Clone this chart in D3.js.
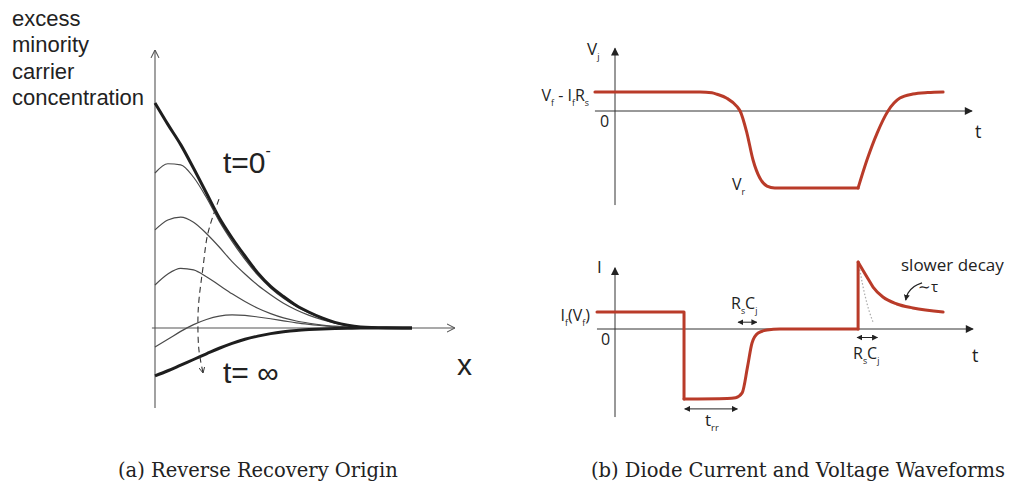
<!DOCTYPE html>
<html>
<head>
<meta charset="utf-8">
<script src="https://cdn.jsdelivr.net/npm/d3@7"></script>
<style>
  html, body { margin: 0; padding: 0; background: #fff; }
  svg { display: block; }
</style>
</head>
<body>
<svg id="fig" width="1011" height="492"></svg>
<script>
// ---------- (a) excess minority carrier profiles ----------
const positions = [0, 0.05, 0.1, 0.15, 0.2, 0.25, 0.3, 0.35, 0.4, 0.45, 0.5, 0.55, 0.6, 0.65, 0.7, 0.75, 0.8, 0.9, 1.0];
const profileT0   = [1.0, 0.905, 0.815, 0.71, 0.60, 0.49, 0.40, 0.32, 0.245, 0.185, 0.14, 0.10, 0.07, 0.045, 0.025, 0.012, 0.005, 0.001, 0];
const profileT1   = [0.689, 0.73, 0.725, 0.67, 0.58, 0.475, 0.385, 0.305, 0.235, 0.178, 0.132, 0.096, 0.067, 0.043, 0.024, 0.011, 0.005, 0.001, 0];
const profileT2   = [0.436, 0.48, 0.493, 0.47, 0.42, 0.36, 0.295, 0.24, 0.19, 0.148, 0.11, 0.08, 0.056, 0.037, 0.022, 0.011, 0.005, 0.001, 0];
const profileT3   = [0.191, 0.24, 0.265, 0.258, 0.228, 0.19, 0.152, 0.118, 0.088, 0.064, 0.045, 0.031, 0.021, 0.013, 0.008, 0.004, 0.002, 0, 0];
const profileT4   = [-0.084, -0.05, -0.015, 0.015, 0.038, 0.053, 0.058, 0.056, 0.049, 0.041, 0.032, 0.023, 0.016, 0.01, 0.006, 0.003, 0.001, 0, 0];
const profileTInf = [-0.213, -0.19, -0.165, -0.14, -0.115, -0.09, -0.068, -0.05, -0.036, -0.025, -0.017, -0.011, -0.007, -0.004, -0.002, -0.001, 0, 0, 0];
// time direction guide (x, concentration)
const timeGuide = [[0.249, 0.573], [0.206, 0.422], [0.187, 0.271], [0.171, 0.124], [0.167, 0.036], [0.171, -0.098], [0.187, -0.2]];
const yLabelLines = ["excess", "minority", "carrier", "concentration"];

// ---------- (b) junction voltage and diode current ----------
// (t, Vj) with Vf - If*Rs = 1
const vjFall = [[-0.59, 1], [2.5, 1], [2.85, 0.96], [3.0, 0.88], [3.29, 0.67], [3.59, 0.23], [3.68, 0], [3.88, -1.16], [4.06, -2.58], [4.26, -3.53], [4.47, -3.95], [4.7, -4.05], [7.15, -4.05]];
const vjRise = [[7.15, -4.05], [7.41, -2.58], [7.71, -1.16], [8.03, 0], [8.38, 0.68], [8.76, 0.89], [9.2, 0.97], [9.65, 1.0]];
// (t, I) with If(Vf) = 1
const iForward  = [[-0.53, 1], [2.03, 1], [2.03, -4.12]];
const iRecovery = [[2.03, -4.12], [3.3, -4.09], [3.55, -4.04], [3.74, -3.76], [3.9, -2.2], [4.03, -0.82], [4.21, -0.24], [4.47, -0.06], [4.85, 0], [7.15, 0]];
const iStep     = [[7.15, 0], [7.15, 3.94]];
const iDecay    = [[7.15, 3.94], [7.41, 3.06], [7.59, 2.47], [7.88, 1.88], [8.29, 1.47], [8.76, 1.24], [9.65, 1.0]];
const iFastDecay = [[7.2, 3.5], [7.35, 2.0], [7.5, 0.9], [7.6, 0.35]];
const trrSpan   = [[2.05, -4.7], [3.6, -4.7]];
const rcSpanA   = [[3.62, 0.4], [4.17, 0.4]];
const rcSpanB   = [[7.12, -0.5], [7.72, -0.5]];
const tauPointer = [[9.03, 2.71], [8.8, 2.5], [8.62, 2.12], [8.55, 1.7]];

const svg = d3.select("#fig");
const wave = "#b93b29";

// markers
const defs = svg.append("defs");
defs.append("marker").attr("id", "openHead")
  .attr("viewBox", "0 0 10 10").attr("refX", 10).attr("refY", 5)
  .attr("markerUnits", "userSpaceOnUse").attr("markerWidth", 8).attr("markerHeight", 10)
  .attr("orient", "auto")
  .append("path").attr("d", "M0,0 L10,5 L0,10").attr("fill", "none").attr("stroke", "#555").attr("stroke-width", 1.3);
defs.append("marker").attr("id", "smallOpenHead")
  .attr("viewBox", "0 0 10 10").attr("refX", 10).attr("refY", 5)
  .attr("markerUnits", "userSpaceOnUse").attr("markerWidth", 6).attr("markerHeight", 6)
  .attr("orient", "auto")
  .append("path").attr("d", "M0,0 L10,5 L0,10").attr("fill", "none").attr("stroke", "#333").attr("stroke-width", 1.5);
defs.append("marker").attr("id", "solidHead")
  .attr("viewBox", "0 0 10 10").attr("refX", 9).attr("refY", 5)
  .attr("markerUnits", "userSpaceOnUse").attr("markerWidth", 10).attr("markerHeight", 8)
  .attr("orient", "auto")
  .append("path").attr("d", "M0,0 L10,5 L0,10 Z").attr("fill", "#222");
defs.append("marker").attr("id", "tinyHead")
  .attr("viewBox", "0 0 10 10").attr("refX", 9).attr("refY", 5)
  .attr("markerUnits", "userSpaceOnUse").attr("markerWidth", 6).attr("markerHeight", 6)
  .attr("orient", "auto-start-reverse")
  .append("path").attr("d", "M0,0 L10,5 L0,10 Z").attr("fill", "#222");

// ================= panel (a) =================
const xA = d3.scaleLinear().domain([0, 1]).range([155, 412]);
const yA = d3.scaleLinear().domain([0, 1]).range([328, 103]);
const gA = svg.append("g");

const lineA = d3.line().x(d => xA(d[0])).y(d => yA(d[1]));
gA.append("path").attr("d", lineA([[-0.012, 0], [1.167, 0]]))
  .attr("stroke", "#555").attr("stroke-width", 1.1).attr("fill", "none").attr("marker-end", "url(#openHead)");
gA.append("path").attr("d", lineA([[0, -0.356], [0, 1.236]]))
  .attr("stroke", "#555").attr("stroke-width", 1.1).attr("fill", "none").attr("marker-end", "url(#openHead)");

const profileLine = d3.line().x((d, i) => xA(positions[i])).y(d => yA(d)).curve(d3.curveMonotoneX);
[profileT1, profileT2, profileT3, profileT4].forEach(p => {
  gA.append("path").attr("d", profileLine(p)).attr("fill", "none")
    .attr("stroke", "#4a4a4a").attr("stroke-width", 1.2);
});
[profileT0, profileTInf].forEach(p => {
  gA.append("path").attr("d", profileLine(p)).attr("fill", "none")
    .attr("stroke", "#1e1e1e").attr("stroke-width", 3);
});

gA.append("path").attr("d", lineA.curve(d3.curveCatmullRom)(timeGuide))
  .attr("fill", "none").attr("stroke", "#333").attr("stroke-width", 1.1)
  .attr("stroke-dasharray", "6,4").attr("marker-end", "url(#smallOpenHead)");

const sansA = "Liberation Sans, Arial, Helvetica, sans-serif";
gA.selectAll("text.ylab").data(yLabelLines).join("text").attr("class", "ylab")
  .attr("x", 12).attr("y", (d, i) => 26 + i * 26.3)
  .attr("font-family", sansA).attr("font-size", 22).attr("fill", "#222").text(d => d);

const t0 = gA.append("text").attr("x", 223).attr("y", 173)
  .attr("font-family", sansA).attr("font-size", 30).attr("fill", "#222");
t0.append("tspan").text("t=0");
t0.append("tspan").attr("dy", -17).attr("font-size", 16).text("-");

gA.append("text").attr("x", 223).attr("y", 383)
  .attr("font-family", sansA).attr("font-size", 30).attr("fill", "#222").text("t= ∞");
gA.append("text").attr("x", 457).attr("y", 375)
  .attr("font-family", sansA).attr("font-size", 30).attr("fill", "#222").text("x");

// ================= panel (b) =================
const tB = d3.scaleLinear().domain([0, 10]).range([615, 955]);
const vB = d3.scaleLinear().domain([0, 1]).range([111, 92]);
const iB = d3.scaleLinear().domain([0, 1]).range([329, 312]);
const gB = svg.append("g");

const vLine = d3.line().x(d => tB(d[0])).y(d => vB(d[1]));
const iLine = d3.line().x(d => tB(d[0])).y(d => iB(d[1]));

// axes
gB.append("path").attr("d", vLine([[-0.59, 0], [10.5, 0]]))
  .attr("stroke", "#333").attr("stroke-width", 1).attr("marker-end", "url(#solidHead)");
gB.append("path").attr("d", vLine([[0, -4.95], [0, 3.3]]))
  .attr("stroke", "#333").attr("stroke-width", 1).attr("marker-end", "url(#solidHead)");
gB.append("path").attr("d", iLine([[-0.53, 0], [10.53, 0]]))
  .attr("stroke", "#333").attr("stroke-width", 1).attr("marker-end", "url(#solidHead)");
gB.append("path").attr("d", iLine([[0, -5.18], [0, 3.6]]))
  .attr("stroke", "#333").attr("stroke-width", 1).attr("marker-end", "url(#solidHead)");

// dotted fast-decay reference
gB.append("path").attr("d", iLine.curve(d3.curveMonotoneY)(iFastDecay))
  .attr("fill", "none").attr("stroke", "#aaa").attr("stroke-width", 1.2).attr("stroke-dasharray", "1.5,2");
iLine.curve(d3.curveLinear);

// waveforms
const smoothV = d3.line().x(d => tB(d[0])).y(d => vB(d[1])).curve(d3.curveMonotoneX);
const smoothI = d3.line().x(d => tB(d[0])).y(d => iB(d[1])).curve(d3.curveMonotoneX);
const waveStyle = sel => sel.attr("fill", "none").attr("stroke", wave).attr("stroke-width", 3)
  .attr("stroke-linejoin", "round").attr("stroke-linecap", "round");
gB.append("path").attr("d", smoothV(vjFall)).call(waveStyle);
gB.append("path").attr("d", smoothV(vjRise)).call(waveStyle);
gB.append("path").attr("d", iLine(iForward)).call(waveStyle);
gB.append("path").attr("d", smoothI(iRecovery)).call(waveStyle);
gB.append("path").attr("d", iLine(iStep)).call(waveStyle);
gB.append("path").attr("d", smoothI(iDecay)).call(waveStyle);

// spans
[trrSpan, rcSpanA, rcSpanB].forEach(s => {
  gB.append("path").attr("d", iLine(s)).attr("stroke", "#222").attr("stroke-width", 1)
    .attr("marker-start", "url(#tinyHead)").attr("marker-end", "url(#tinyHead)");
});
gB.append("path").attr("d", iLine.curve(d3.curveCatmullRom)(tauPointer))
  .attr("fill", "none").attr("stroke", "#222").attr("stroke-width", 1.3).attr("marker-end", "url(#tinyHead)");

// labels
const sansB = "Open Sans, Noto Sans, sans-serif";
function label(x, y, size, parts, anchor) {
  const t = gB.append("text").attr("x", x).attr("y", y).attr("font-family", sansB)
    .attr("font-size", size).attr("fill", "#222").attr("text-anchor", anchor || "start");
  let shifted = 0;
  parts.forEach(p => {
    const isSub = typeof p !== "string";
    const dy = isSub ? 5 - shifted : -shifted;
    shifted = isSub ? 5 : 0;
    t.append("tspan").attr("dy", dy).attr("font-size", isSub ? size * 0.55 : size).text(isSub ? p.sub : p);
  });
  return t;
}
label(587, 55, 17, ["V", {sub: "j"}]);
label(589, 101, 16, ["V", {sub: "f"}, " - I", {sub: "f"}, "R", {sub: "s"}], "end");
label(600, 127, 16, ["0"]);
label(975, 138, 18, ["t"]);
label(732, 190, 16, ["V", {sub: "r"}]);

label(597, 273, 17, ["I"]);
label(590, 321, 16, ["I", {sub: "f"}, "(V", {sub: "f"}, ")"], "end");
label(601, 345, 16, ["0"]);
label(972, 362, 18, ["t"]);
label(731, 309, 16, ["R", {sub: "s"}, "C", {sub: "j"}]);
label(853, 359, 16, ["R", {sub: "s"}, "C", {sub: "j"}]);
label(705, 426, 17, ["t", {sub: "rr"}]);
label(901, 271, 17, ["slower decay"]);
label(918, 292, 15, ["∼τ"]);

// ================= captions =================
const serif = "DejaVu Serif, serif";
svg.append("text").attr("x", 118).attr("y", 477).attr("font-family", serif)
  .attr("font-size", 19.5).attr("fill", "#222").text("(a) Reverse Recovery Origin");
svg.append("text").attr("x", 1005).attr("y", 477).attr("text-anchor", "end").attr("font-family", serif)
  .attr("font-size", 19.5).attr("fill", "#222").text("(b) Diode Current and Voltage Waveforms");
</script>
</body>
</html>
